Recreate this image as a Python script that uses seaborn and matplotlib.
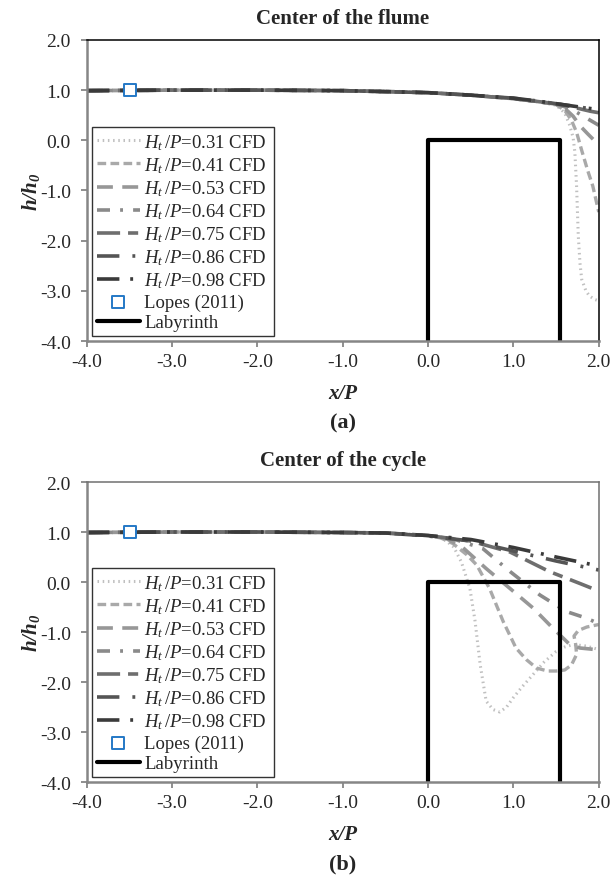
import numpy as np
import pandas as pd
import matplotlib
matplotlib.use("Agg")
import matplotlib.pyplot as plt
import seaborn as sns

sns.set_theme(style="white")
plt.rcParams["font.family"] = ["Liberation Serif", "DejaVu Serif"]
plt.rcParams["mathtext.fontset"] = "custom"
plt.rcParams["mathtext.rm"] = "Liberation Serif"
plt.rcParams["mathtext.it"] = "Liberation Serif:italic"
plt.rcParams["mathtext.bf"] = "Liberation Serif:bold"
plt.rcParams["mathtext.bfit"] = "Liberation Serif:bold:italic"

# ---------------- data: center of the flume ----------------
flume_x_031 = [-4.0, -3.0, -2.0, -1.0, -0.5, 0.0, 0.5, 1.0, 1.25, 1.5, 1.6, 1.66, 1.70, 1.72, 1.74, 1.76, 1.78, 1.80, 1.85, 1.89, 1.95, 2.0]
flume_y_031 = [0.99, 1.0, 1.0, 0.99, 0.98, 0.95, 0.91, 0.84, 0.79, 0.70, 0.55, 0.30, 0.05, -0.24, -0.91, -1.90, -2.45, -2.77, -3.00, -3.10, -3.17, -3.20]
flume_x_041 = [-4.0, -3.0, -2.0, -1.0, -0.5, 0.0, 0.5, 1.0, 1.25, 1.5, 1.6, 1.68, 1.74, 1.80, 1.87, 1.93, 2.0]
flume_y_041 = [0.99, 1.0, 1.0, 0.99, 0.98, 0.95, 0.90, 0.83, 0.78, 0.71, 0.60, 0.40, 0.16, -0.20, -0.60, -0.91, -1.43]
flume_x_053 = [-4.0, -3.0, -2.0, -1.0, -0.5, 0.0, 0.5, 1.0, 1.25, 1.5, 1.6, 1.7, 1.78, 1.87, 1.97, 2.0]
flume_y_053 = [0.99, 1.0, 1.0, 0.99, 0.97, 0.95, 0.90, 0.83, 0.78, 0.72, 0.64, 0.48, 0.29, 0.13, -0.04, -0.08]
flume_x_064 = [-4.0, -3.0, -2.0, -1.0, -0.5, 0.0, 0.5, 1.0, 1.25, 1.5, 1.6, 1.7, 1.8, 1.9, 2.0]
flume_y_064 = [0.99, 1.0, 1.0, 0.99, 0.97, 0.95, 0.90, 0.83, 0.78, 0.72, 0.67, 0.60, 0.50, 0.40, 0.30]
flume_x_075 = [-4.0, -3.0, -2.0, -1.0, -0.5, 0.0, 0.5, 1.0, 1.25, 1.5, 1.6, 1.7, 1.8, 1.9, 2.0]
flume_y_075 = [0.99, 1.0, 1.0, 0.99, 0.97, 0.95, 0.90, 0.83, 0.78, 0.73, 0.70, 0.66, 0.62, 0.58, 0.55]
flume_x_086 = [-4.0, -3.0, -2.0, -1.0, -0.5, 0.0, 0.5, 1.0, 1.25, 1.5, 1.75, 2.0]
flume_y_086 = [0.99, 1.0, 1.0, 0.99, 0.97, 0.95, 0.90, 0.84, 0.79, 0.73, 0.67, 0.60]
flume_x_098 = [-4.0, -3.0, -2.0, -1.0, -0.5, 0.0, 0.5, 1.0, 1.25, 1.5, 1.75, 2.0]
flume_y_098 = [0.99, 1.0, 1.0, 0.99, 0.97, 0.95, 0.90, 0.84, 0.79, 0.73, 0.67, 0.61]

# ---------------- data: center of the cycle ----------------
cycle_x_031 = [-4.0, -3.0, -2.0, -1.0, -0.5, -0.25, 0.0, 0.17, 0.30, 0.39, 0.49, 0.55, 0.61, 0.68, 0.76, 0.84, 0.92, 1.0, 1.1, 1.23, 1.36, 1.5, 1.6, 1.7, 1.85, 2.0]
cycle_y_031 = [0.99, 1.0, 1.0, 0.99, 0.98, 0.96, 0.93, 0.88, 0.70, 0.40, -0.13, -0.78, -1.65, -2.38, -2.55, -2.60, -2.50, -2.31, -2.10, -1.85, -1.60, -1.39, -1.30, -1.25, -1.28, -1.35]
cycle_x_041 = [-4.0, -3.0, -2.0, -1.0, -0.5, 0.0, 0.15, 0.29, 0.45, 0.57, 0.72, 0.88, 1.03, 1.15, 1.27, 1.4, 1.5, 1.6, 1.68, 1.74, 1.73, 1.71, 1.76, 1.86, 2.0]
cycle_y_041 = [0.99, 1.0, 1.0, 0.99, 0.98, 0.93, 0.88, 0.77, 0.55, 0.34, -0.13, -0.79, -1.32, -1.55, -1.72, -1.78, -1.78, -1.76, -1.66, -1.45, -1.25, -1.08, -0.97, -0.90, -0.85]
cycle_x_053 = [-4.0, -3.0, -2.0, -1.0, -0.5, 0.0, 0.2, 0.4, 0.68, 0.96, 1.23, 1.46, 1.66, 1.78, 1.9, 2.0]
cycle_y_053 = [0.99, 1.0, 1.0, 0.99, 0.98, 0.93, 0.88, 0.70, 0.27, -0.13, -0.52, -0.92, -1.25, -1.32, -1.34, -1.36]
cycle_x_064 = [-4.0, -3.0, -2.0, -1.0, -0.5, 0.0, 0.3, 0.64, 0.96, 1.31, 1.62, 1.85, 2.0]
cycle_y_064 = [0.99, 1.0, 1.0, 0.99, 0.98, 0.93, 0.86, 0.67, 0.21, -0.26, -0.59, -0.72, -0.83]
cycle_x_075 = [-4.0, -3.0, -2.0, -1.0, -0.5, 0.0, 0.5, 0.96, 1.42, 1.78, 2.0]
cycle_y_075 = [0.99, 1.0, 1.0, 0.99, 0.98, 0.93, 0.82, 0.60, 0.21, -0.03, -0.18]
cycle_x_086 = [-4.0, -3.0, -2.0, -1.0, -0.5, 0.0, 0.5, 1.0, 1.5, 2.0]
cycle_y_086 = [0.99, 1.0, 1.0, 0.99, 0.98, 0.92, 0.82, 0.62, 0.42, 0.24]
cycle_x_098 = [-4.0, -3.0, -2.0, -1.0, -0.5, 0.0, 0.5, 1.0, 1.5, 2.0]
cycle_y_098 = [0.99, 1.0, 1.0, 0.99, 0.98, 0.93, 0.85, 0.69, 0.50, 0.32]

ratios = ["0.31", "0.41", "0.53", "0.64", "0.75", "0.86", "0.98"]
flume_series = [(flume_x_031, flume_y_031), (flume_x_041, flume_y_041), (flume_x_053, flume_y_053),
                (flume_x_064, flume_y_064), (flume_x_075, flume_y_075), (flume_x_086, flume_y_086),
                (flume_x_098, flume_y_098)]
cycle_series = [(cycle_x_031, cycle_y_031), (cycle_x_041, cycle_y_041), (cycle_x_053, cycle_y_053),
                (cycle_x_064, cycle_y_064), (cycle_x_075, cycle_y_075), (cycle_x_086, cycle_y_086),
                (cycle_x_098, cycle_y_098)]

# experimental point and weir outline
lopes_x = [-3.5]
lopes_y = [1.0]
labyrinth_x = [0.0, 0.0, 1.55, 1.55]
labyrinth_y = [-4.0, 0.0, 0.0, -4.0]

x_ticks = [-4.0, -3.0, -2.0, -1.0, 0.0, 1.0, 2.0]
y_ticks = [-4.0, -3.0, -2.0, -1.0, 0.0, 1.0, 2.0]

# ---------------- styling ----------------
line_colors = ["#c0c0c0", "#a9a9a9", "#979797", "#8a8a8a", "#6e6e6e", "#555555", "#3a3a3a"]
line_dashes = [(0.5, 1.2), (2.6, 1.3), (4.4, 2.6), (3.6, 2.8, 0.8, 2.8), (6.4, 2.2, 2.8, 2.2),
               (6.2, 3.6, 0.8, 3.6), (6.2, 3.0, 0.8, 3.0)]
line_widths = [2.2, 2.4, 2.6, 2.6, 2.6, 2.6, 2.6]
axis_grey = "#868686"

fig = plt.figure(figsize=(6.16, 8.79), dpi=100)
ax_top = fig.add_axes([0.141, 0.6109, 0.831, 0.3425])
ax_bot = fig.add_axes([0.141, 0.1092, 0.831, 0.3413])


def draw_panel(ax, series, title, frame_color):
    for (xs, ys), r, c, d, lw in zip(series, ratios, line_colors, line_dashes, line_widths):
        df = pd.DataFrame({"x": xs, "y": ys})
        sns.lineplot(data=df, x="x", y="y", ax=ax, color=c, lw=lw, sort=False,
                     estimator=None, dashes=False, label=r"$H_t\,/P$=" + r + " CFD")
        ax.lines[-1].set_dashes(d)
        ax.lines[-1].set_dash_capstyle("butt")
    sns.scatterplot(x=lopes_x, y=lopes_y, ax=ax, marker="s", s=70, facecolor="white",
                    edgecolor="#2478c6", linewidth=1.4, label="Lopes (2011)", zorder=5)
    sns.lineplot(x=labyrinth_x, y=labyrinth_y, ax=ax, color="black", lw=3.0, sort=False,
                 estimator=None, label="Labyrinth")

    ax.set_xlim(-4, 2)
    ax.set_ylim(-4, 2)
    ax.set_xticks(x_ticks)
    ax.set_yticks(y_ticks)
    ax.set_xticklabels([f"{v:.1f}" for v in x_ticks], fontsize=14)
    ax.set_yticklabels([f"{v:.1f}" for v in y_ticks], fontsize=14)
    ax.tick_params(axis="both", direction="out", length=4.5, width=1.3, color=axis_grey,
                   bottom=True, left=True)
    ax.tick_params(axis="x", pad=4)
    ax.tick_params(axis="y", pad=7)
    for side in ("left", "bottom"):
        ax.spines[side].set_color(axis_grey)
        ax.spines[side].set_linewidth(1.8)
    for side in ("top", "right"):
        ax.spines[side].set_color(frame_color)
        ax.spines[side].set_linewidth(1.1)
    ax.set_xlabel("")
    ax.set_ylabel(r"$\mathbfit{h/h}_{\mathbfit{0}}$", fontsize=15)
    ax.yaxis.set_label_coords(-0.088, 0.5)
    ax.set_title(title, fontsize=15, fontweight="bold", pad=12)

    leg = ax.legend(loc="lower left", bbox_to_anchor=(0.0098, 0.0167, 0.355, 0.65), mode="expand",
                    fontsize=13.5, frameon=True, fancybox=False, borderpad=0.25,
                    labelspacing=0.18, handlelength=2.3, handletextpad=0.25, borderaxespad=0.0)
    leg.get_frame().set_edgecolor("black")
    leg.get_frame().set_linewidth(1.0)


draw_panel(ax_top, flume_series, "Center of the flume", "black")
draw_panel(ax_bot, cycle_series, "Center of the cycle", "#707070")

fig.text(0.5568, 1 - 394 / 879, "x/P", ha="center", va="center", fontsize=15,
         fontweight="bold", fontstyle="italic")
fig.text(0.5568, 1 - 423 / 879, "(a)", ha="center", va="center", fontsize=16, fontweight="bold")
fig.text(0.5568, 1 - 835 / 879, "x/P", ha="center", va="center", fontsize=15,
         fontweight="bold", fontstyle="italic")
fig.text(0.5568, 1 - 864 / 879, "(b)", ha="center", va="center", fontsize=16, fontweight="bold")

fig.savefig("out.png", dpi=100)
